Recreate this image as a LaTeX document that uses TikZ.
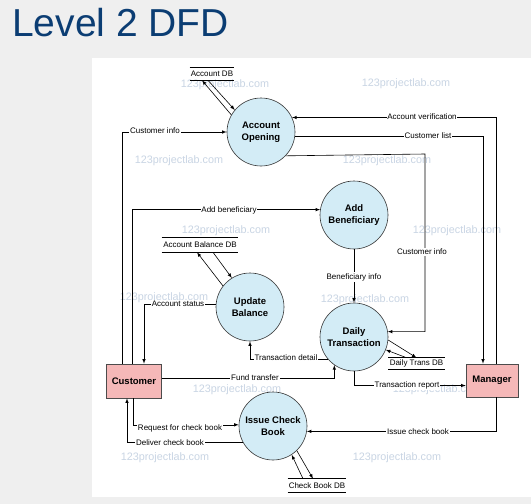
\documentclass[tikz,border=0pt]{standalone}
\usepackage{fontspec}
\setmainfont{Liberation Sans}
\definecolor{procblue}{HTML}{D3ECF6}
\definecolor{extpink}{HTML}{F5B8B8}
\definecolor{titleblue}{HTML}{0B3D73}
\definecolor{wmark}{HTML}{C9D5E4}
\definecolor{pagegray}{HTML}{EFEFEF}
\tikzset{
  proc/.style={circle, draw=black!80, fill=procblue, minimum size=68pt, inner sep=0pt,
    align=center, font=\fontsize{9.5}{12}\selectfont\bfseries},
  extent/.style={draw=black!70, fill=extpink, minimum width=55pt, minimum height=34pt,
    inner sep=0pt, font=\fontsize{9.5}{12}\selectfont\bfseries},
  dstore/.style={inner sep=0pt, font=\fontsize{8}{9}\selectfont},
  flow/.style={fill=white, inner sep=0.8pt, font=\fontsize{8}{9}\selectfont},
  wm/.style={text=wmark, inner sep=0pt, font=\fontsize{10.8}{12}\selectfont},
}
\begin{document}
\begin{tikzpicture}[>=latex, x=1pt, y=-1pt, line width=0.6pt]
    \fill[pagegray] (0,0) rectangle (531,504);
    \fill[white] (92,58) rectangle (531,497);
    \useasboundingbox (0,0) rectangle (531,504);
    \node[anchor=base west, inner sep=0pt, text=titleblue, font=\fontsize{39}{40}\selectfont] (title) at (12,36) {Level 2 DFD};

    % watermarks
    \foreach \wx/\wy in {225/85, 406/84, 179/161, 387/161, 226/231, 457/231,
                         164/298, 365/300, 237/390, 437/390, 165/458, 397/458}
    {
        \node[wm] at (\wx,\wy) {123projectlab.com};
    }

    % processes and entities
    \node[proc] (ao) at (261,132) {Account\\Opening};
    \node[proc] (ab) at (354,215) {Add\\Beneficiary};
    \node[proc] (ub) at (250,307) {Update\\Balance};
    \node[proc] (dt) at (354,337) {Daily\\Transaction};
    \node[proc] (ic) at (273,426) {Issue Check\\Book};
    \node[extent] (cust) at (134,381) {Customer};
    \node[extent, minimum width=52pt, minimum height=33pt] (mgr) at (492,380.5) {Manager};

    % data stores
    \node[dstore, minimum width=44pt, minimum height=12pt] (adb) at (212,74) {Account DB};
    \node[dstore, minimum width=76pt, minimum height=14pt] (abdb) at (200,245) {Account Balance DB};
    \node[dstore, minimum width=56pt, minimum height=11pt] (dtdb) at (416.5,363.5) {Daily Trans DB};
    \node[dstore, minimum width=58pt, minimum height=13pt] (cbdb) at (317,485.5) {Check Book DB};
    \foreach \s in {adb,abdb,dtdb,cbdb}
    {
        \draw (\s.north west) -- (\s.north east) (\s.south west) -- (\s.south east);
    }

    % store flows
    \draw[->] (ao.150) -- ([xshift=-10pt]adb.south);
    \draw[->] ([xshift=-4pt]adb.south) -- (ao.140);
    \draw[->] (ub.142) -- ([xshift=-3pt]abdb.south);
    \draw[->] ([xshift=13pt]abdb.south) -- (ub.122);
    \draw[->] (dt.-5) -- (dtdb.north);
    \draw[->] ([xshift=-10pt]dtdb.north) -- (dt.-22);
    \draw[->] ([xshift=-14pt]cbdb.north) -- (ic.-57);
    \draw[->] (ic.-46) -- ([xshift=-4pt]cbdb.north);

    % data flows
    \coordinate (ci) at (425,154);
    \draw[->] ([xshift=-12pt]cust.north) |- (ao.west);
    \draw[->] ([xshift=4pt]mgr.north) |- (ao.25);
    \draw[->] (ao.-8) -| ([xshift=-9pt]mgr.north);
    \draw[->] (ao.-44) -- (ci) |- (dt.9);
    \draw[->] ([xshift=-2pt]cust.north) |- (ab.171);
    \draw[->] (ab) -- (dt);
    \draw[->] (ub.175) -| ([xshift=10pt]cust.north);
    \draw[->] (dt.220) -| (ub.south);
    \draw[->] ([yshift=3pt]cust.east) -| (dt.235);
    \draw[->] (dt.south) |- ([yshift=-5pt]mgr.west);
    \draw[->] ([xshift=4pt]mgr.south) |- (ic.-9);
    \draw[->] ([xshift=-1pt]cust.south) |- (ic.178);
    \draw[->] (ic.209) -| ([xshift=-7pt]cust.south);

    % flow labels
    \node[flow] at (155,131) {Customer info};
    \node[flow] at (422,117) {Account verification};
    \node[flow] at (428,136) {Customer list};
    \node[flow] at (422,252) {Customer info};
    \node[flow] at (229,210) {Add beneficiary};
    \node[flow] at (354,277) {Beneficiary info};
    \node[flow] at (178,304) {Account status};
    \node[flow] at (286,358) {Transaction detail};
    \node[flow] at (255,378) {Fund transfer};
    \node[flow] at (407,385) {Transaction report};
    \node[flow] at (418,432) {Issue check book};
    \node[flow] at (180,428) {Request for check book};
    \node[flow] at (170,443) {Deliver check book};
\end{tikzpicture}
\end{document}
